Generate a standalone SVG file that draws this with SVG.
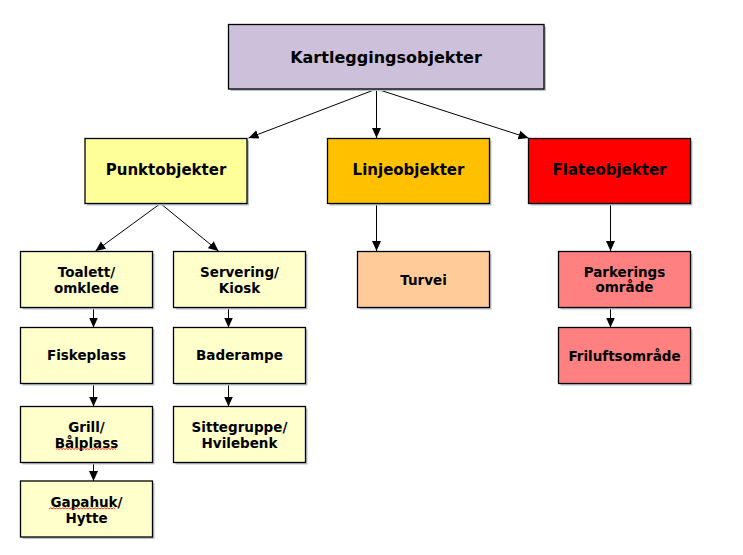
<svg xmlns="http://www.w3.org/2000/svg" width="743" height="555" viewBox="0 0 743 555">
<style>
.box{stroke:#000;stroke-width:1.3}
.sh{fill:#b8c2cc}
.t{font-family:"DejaVu Sans",Verdana,sans-serif;font-weight:bold;fill:#000;text-anchor:middle}
.l{font-size:16px}
.m{font-size:15px}
.s{font-size:13.5px}
.c{stroke:#000;stroke-width:1;fill:none;marker-end:url(#ah)}
.wave{stroke:#e00;stroke-width:0.8;fill:none}
</style>
<defs>
<marker id="ah" markerUnits="userSpaceOnUse" markerWidth="10" markerHeight="10" viewBox="0 0 10 10" refX="10" refY="5" orient="auto">
<path d="M0,0.5 L10,5 L0,9.5 Z" fill="#000"/>
</marker>
</defs>
<rect width="743" height="555" fill="#fff"/>
<g id="connectors">
<line class="c" x1="376.5" y1="89" x2="248.5" y2="138"/>
<line class="c" x1="376.5" y1="89" x2="376.5" y2="138"/>
<line class="c" x1="376.5" y1="89" x2="528.5" y2="138"/>
<line class="c" x1="160.5" y1="203.5" x2="95.5" y2="251"/>
<line class="c" x1="160.5" y1="203.5" x2="218.5" y2="251"/>
<line class="c" x1="93.5" y1="307.5" x2="93.5" y2="327.5"/>
<line class="c" x1="93.5" y1="383.5" x2="93.5" y2="406.5"/>
<line class="c" x1="93.5" y1="462.5" x2="93.5" y2="481"/>
<line class="c" x1="228.5" y1="307.5" x2="228.5" y2="327.5"/>
<line class="c" x1="228.5" y1="383.5" x2="228.5" y2="406.5"/>
<line class="c" x1="376.5" y1="203.5" x2="376.5" y2="251"/>
<line class="c" x1="610.5" y1="203.5" x2="610.5" y2="251"/>
<line class="c" x1="610.5" y1="307.5" x2="610.5" y2="327.5"/>
</g>
<g id="kartlegging">
<rect class="sh" x="230.5" y="26.5" width="315.5" height="64.5"/>
<rect class="box" x="228.5" y="24.5" width="315.5" height="64.5" fill="#ccc0da"/>
<text class="t l" x="386" y="63">Kartleggingsobjekter</text>
</g>
<g id="punkt">
<rect class="sh" x="87" y="140.5" width="162" height="65"/>
<rect class="box" x="85" y="138.5" width="162" height="65" fill="#ffff99"/>
<text class="t m" x="166" y="175">Punktobjekter</text>
</g>
<g id="linje">
<rect class="sh" x="329.5" y="140.5" width="162" height="65"/>
<rect class="box" x="327.5" y="138.5" width="162" height="65" fill="#ffc000"/>
<text class="t m" x="408.5" y="175">Linjeobjekter</text>
</g>
<g id="flate">
<rect class="sh" x="530.5" y="140.5" width="162" height="65"/>
<rect class="box" x="528.5" y="138.5" width="162" height="65" fill="#ff0000"/>
<text class="t m" x="609.5" y="175">Flateobjekter</text>
</g>
<g id="toalett">
<rect class="sh" x="22.5" y="253.5" width="132" height="56"/>
<rect class="box" x="20.5" y="251.5" width="132" height="56" fill="#ffffcc"/>
<text class="t s" x="86.5" y="277.3">Toalett/</text>
<text class="t s" x="86.5" y="293.3">omklede</text>
</g>
<g id="fiskeplass">
<rect class="sh" x="22.5" y="329.5" width="132" height="56"/>
<rect class="box" x="20.5" y="327.5" width="132" height="56" fill="#ffffcc"/>
<text class="t s" x="86.5" y="359.5">Fiskeplass</text>
</g>
<g id="grill">
<rect class="sh" x="22.5" y="408.5" width="132" height="56"/>
<rect class="box" x="20.5" y="406.5" width="132" height="56" fill="#ffffcc"/>
<text class="t s" x="86.5" y="432.3">Grill/</text>
<text class="t s" x="86.5" y="447.7">Bålplass</text>
<path class="wave" d="M56,449.5 l1.5,-1.2 l1.5,1.2 l1.5,-1.2 l1.5,1.2 l1.5,-1.2 l1.5,1.2 l1.5,-1.2 l1.5,1.2 l1.5,-1.2 l1.5,1.2 l1.5,-1.2 l1.5,1.2 l1.5,-1.2 l1.5,1.2 l1.5,-1.2 l1.5,1.2 l1.5,-1.2 l1.5,1.2 l1.5,-1.2 l1.5,1.2 l1.5,-1.2 l1.5,1.2 l1.5,-1.2 l1.5,1.2 l1.5,-1.2 l1.5,1.2 l1.5,-1.2 l1.5,1.2 l1.5,-1.2 l1.5,1.2 l1.5,-1.2 l1.5,1.2 l1.5,-1.2 l1.5,1.2 l1.5,-1.2 l1.5,1.2 l1.5,-1.2 l1.5,1.2 l1.5,-1.2 l1.5,1.2"/>
</g>
<g id="gapahuk">
<rect class="sh" x="22.5" y="483" width="132" height="56"/>
<rect class="box" x="20.5" y="481" width="132" height="56" fill="#ffffcc"/>
<text class="t s" x="86.5" y="506.7">Gapahuk/</text>
<text class="t s" x="86.5" y="522.7">Hytte</text>
<path class="wave" d="M49,509 l1.5,-1.2 l1.5,1.2 l1.5,-1.2 l1.5,1.2 l1.5,-1.2 l1.5,1.2 l1.5,-1.2 l1.5,1.2 l1.5,-1.2 l1.5,1.2 l1.5,-1.2 l1.5,1.2 l1.5,-1.2 l1.5,1.2 l1.5,-1.2 l1.5,1.2 l1.5,-1.2 l1.5,1.2 l1.5,-1.2 l1.5,1.2 l1.5,-1.2 l1.5,1.2 l1.5,-1.2 l1.5,1.2 l1.5,-1.2 l1.5,1.2 l1.5,-1.2 l1.5,1.2 l1.5,-1.2 l1.5,1.2 l1.5,-1.2 l1.5,1.2 l1.5,-1.2 l1.5,1.2 l1.5,-1.2 l1.5,1.2 l1.5,-1.2 l1.5,1.2 l1.5,-1.2 l1.5,1.2 l1.5,-1.2 l1.5,1.2 l1.5,-1.2 l1.5,1.2"/>
</g>
<g id="servering">
<rect class="sh" x="175.5" y="253.5" width="132" height="56"/>
<rect class="box" x="173.5" y="251.5" width="132" height="56" fill="#ffffcc"/>
<text class="t s" x="239.5" y="277.3">Servering/</text>
<text class="t s" x="239.5" y="293.3">Kiosk</text>
</g>
<g id="baderampe">
<rect class="sh" x="175.5" y="329.5" width="132" height="56"/>
<rect class="box" x="173.5" y="327.5" width="132" height="56" fill="#ffffcc"/>
<text class="t s" x="239.5" y="359.5">Baderampe</text>
</g>
<g id="sittegruppe">
<rect class="sh" x="175.5" y="408.5" width="132" height="56"/>
<rect class="box" x="173.5" y="406.5" width="132" height="56" fill="#ffffcc"/>
<text class="t s" x="239.5" y="432.3">Sittegruppe/</text>
<text class="t s" x="239.5" y="447.7">Hvilebenk</text>
</g>
<g id="turvei">
<rect class="sh" x="359.5" y="253.5" width="132" height="56"/>
<rect class="box" x="357.5" y="251.5" width="132" height="56" fill="#ffcc99"/>
<text class="t s" x="423.5" y="285">Turvei</text>
</g>
<g id="parkering">
<rect class="sh" x="560.5" y="253.5" width="132" height="56"/>
<rect class="box" x="558.5" y="251.5" width="132" height="56" fill="#ff8080"/>
<text class="t s" x="624.5" y="276.7">Parkerings</text>
<text class="t s" x="624.5" y="292.3">område</text>
</g>
<g id="friluft">
<rect class="sh" x="560.5" y="329.5" width="132" height="56"/>
<rect class="box" x="558.5" y="327.5" width="132" height="56" fill="#ff8080"/>
<text class="t s" x="624.5" y="360.7">Friluftsområde</text>
</g>
</svg>
